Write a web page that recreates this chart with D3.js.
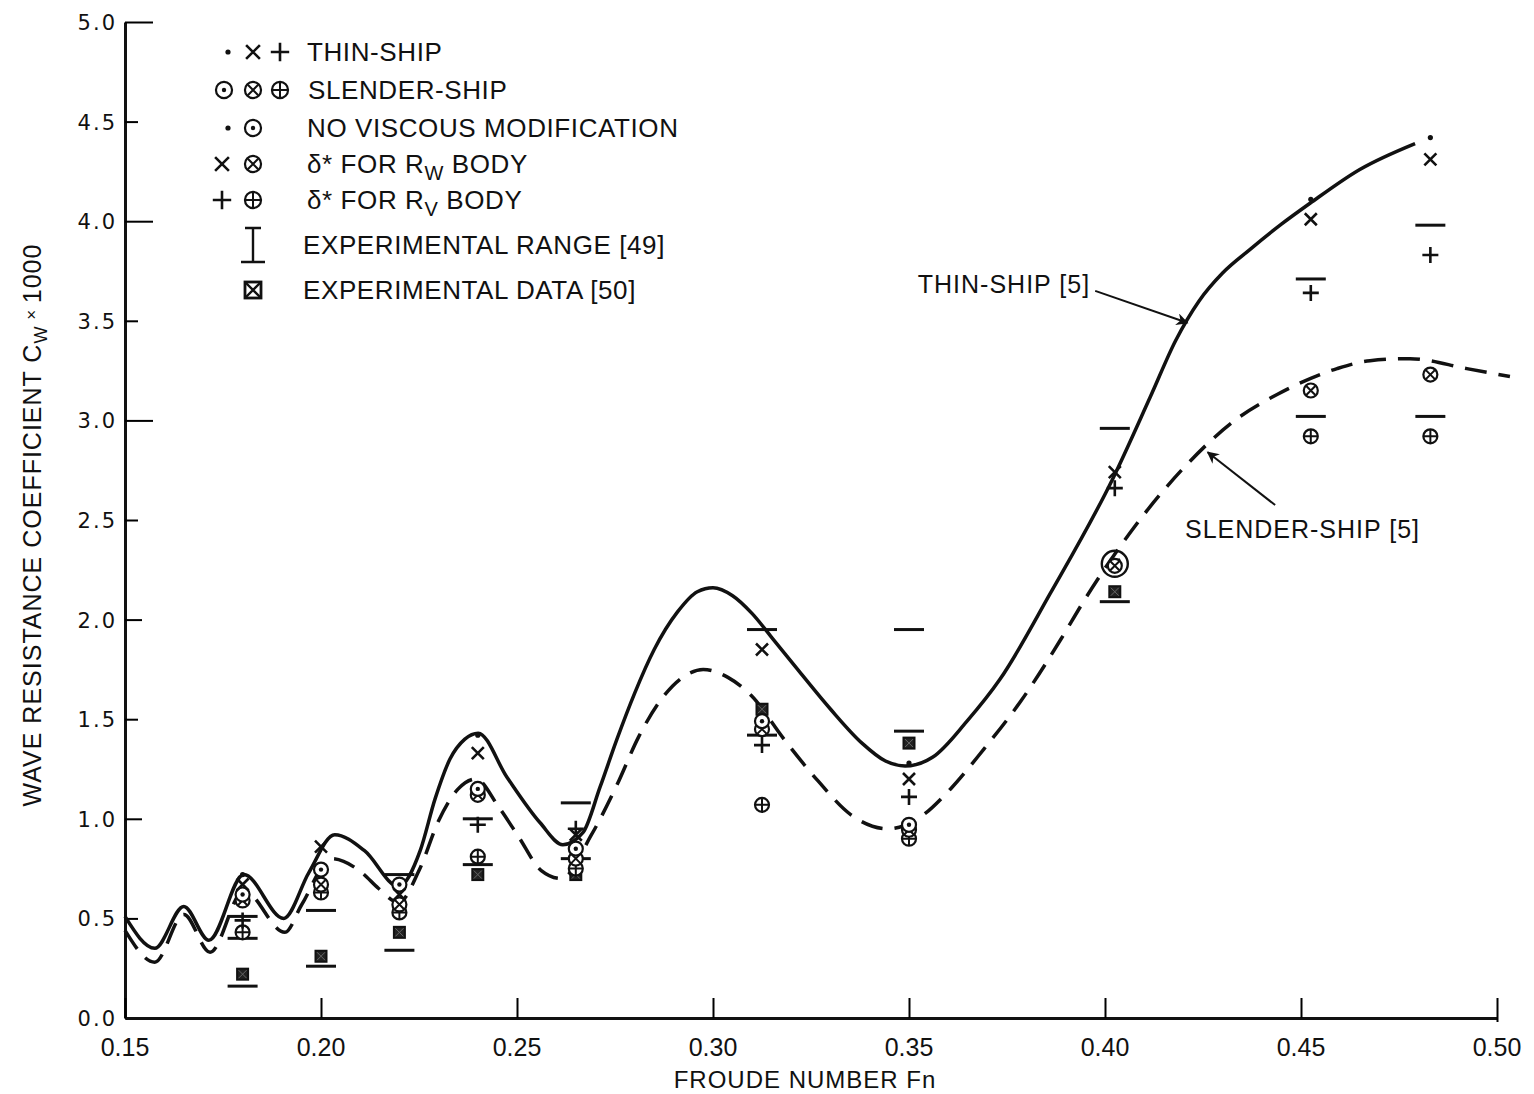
<!DOCTYPE html>
<html>
<head>
<meta charset="utf-8">
<script src="https://cdn.jsdelivr.net/npm/d3@7"></script>
<style>
  body { margin: 0; background: #fff; }
  svg { display: block; font-family: "Liberation Sans", Arial, sans-serif; }
  .y-label { font-family: "DejaVu Sans", sans-serif; font-size: 21px; letter-spacing: 2px; fill: #111; }
  .x-label { font-size: 25px; fill: #111; }
  .legend-text { font-size: 26px; letter-spacing: 0.6px; fill: #111; }
  .note { font-size: 25px; letter-spacing: 1px; fill: #111; }
  .title { font-size: 25px; letter-spacing: 1px; fill: #111; }
</style>
</head>
<body>
<div id="chart"></div>
<script>
// curves (Fn, Cw x 1000)
const thinShipCurve = [
  [0.150, 0.51], [0.1576, 0.35], [0.1650, 0.56], [0.1714, 0.39], [0.1803, 0.72],
  [0.1905, 0.50], [0.1969, 0.73], [0.2035, 0.92], [0.2111, 0.84], [0.2198, 0.66],
  [0.2253, 0.84], [0.2291, 1.10], [0.2329, 1.30], [0.2367, 1.40], [0.2401, 1.43],
  [0.2474, 1.21], [0.2559, 0.98], [0.2617, 0.87], [0.2668, 0.93], [0.2712, 1.16],
  [0.2755, 1.40], [0.2800, 1.63], [0.2850, 1.85], [0.2910, 2.04], [0.2960, 2.14],
  [0.3000, 2.16], [0.3050, 2.12], [0.3100, 2.03], [0.3150, 1.91], [0.3220, 1.74],
  [0.3300, 1.55], [0.3380, 1.38], [0.3440, 1.29], [0.3490, 1.265], [0.3561, 1.31],
  [0.3648, 1.49], [0.3732, 1.70], [0.3860, 2.13], [0.4018, 2.70], [0.4116, 3.12],
  [0.4180, 3.40], [0.4240, 3.60], [0.4300, 3.74], [0.4371, 3.86], [0.4450, 3.985],
  [0.4523, 4.09], [0.4650, 4.26], [0.4791, 4.39]
];
const slenderShipCurve = [
  [0.150, 0.44], [0.1576, 0.28], [0.1650, 0.52], [0.1717, 0.33], [0.1803, 0.64],
  [0.1908, 0.43], [0.1951, 0.57], [0.2027, 0.80], [0.2104, 0.73], [0.2147, 0.65],
  [0.2198, 0.58], [0.2250, 0.74], [0.2300, 0.99], [0.2350, 1.15], [0.2395, 1.20],
  [0.2453, 1.06], [0.2504, 0.91], [0.2562, 0.74], [0.2613, 0.70], [0.2690, 0.92],
  [0.2755, 1.17], [0.2810, 1.41], [0.2868, 1.60], [0.2930, 1.72], [0.2975, 1.75],
  [0.3038, 1.71], [0.3097, 1.62], [0.3181, 1.40], [0.3268, 1.19], [0.3352, 1.02],
  [0.3446, 0.95], [0.3522, 1.00], [0.3606, 1.15], [0.3691, 1.35], [0.3785, 1.59],
  [0.3887, 1.90], [0.3945, 2.09], [0.4073, 2.46], [0.4200, 2.76], [0.4338, 3.01],
  [0.4439, 3.13], [0.4592, 3.26], [0.4676, 3.30], [0.4778, 3.31], [0.4923, 3.26],
  [0.5033, 3.22]
];

// computed points
const thinNoVisc = [[0.18, 0.72], [0.24, 1.42], [0.35, 1.28], [0.4525, 4.11], [0.483, 4.42]];
const thinRw = [[0.18, 0.67], [0.20, 0.86], [0.22, 0.62], [0.24, 1.33], [0.265, 0.92],
  [0.3125, 1.85], [0.35, 1.20], [0.4025, 2.74], [0.4525, 4.01], [0.483, 4.31]];
const thinRv = [[0.18, 0.49], [0.24, 0.97], [0.265, 0.95], [0.3125, 1.37], [0.35, 1.11],
  [0.4025, 2.66], [0.4525, 3.64], [0.483, 3.83]];
const slenderNoVisc = [[0.18, 0.62], [0.20, 0.745], [0.22, 0.67], [0.24, 1.15], [0.265, 0.85],
  [0.3125, 1.49], [0.35, 0.97]];
const slenderRw = [[0.18, 0.59], [0.20, 0.67], [0.22, 0.57], [0.24, 1.12], [0.265, 0.80],
  [0.3125, 1.45], [0.35, 0.945], [0.4025, 2.27], [0.4525, 3.15], [0.483, 3.23]];
const slenderRv = [[0.18, 0.43], [0.20, 0.63], [0.22, 0.53], [0.24, 0.81], [0.265, 0.75],
  [0.3125, 1.07], [0.35, 0.90], [0.4525, 2.92], [0.483, 2.92]];
const slenderBig = [[0.4025, 2.28]];

// experiments
const expRangeBars = [[0.18, 0.51], [0.18, 0.40], [0.18, 0.16], [0.20, 0.54], [0.20, 0.26],
  [0.22, 0.72], [0.22, 0.34], [0.24, 1.00], [0.24, 0.77], [0.265, 1.08], [0.265, 0.80],
  [0.3125, 1.95], [0.3125, 1.42], [0.35, 1.95], [0.35, 1.44], [0.4025, 2.96], [0.4025, 2.09],
  [0.4525, 3.71], [0.4525, 3.02], [0.483, 3.98], [0.483, 3.02]];
const expData = [[0.18, 0.22], [0.20, 0.31], [0.22, 0.43], [0.24, 0.72], [0.265, 0.72],
  [0.3125, 1.55], [0.35, 1.38], [0.4025, 2.14]];

const xTicks = [0.15, 0.20, 0.25, 0.30, 0.35, 0.40, 0.45, 0.50];
const yTicks = [0, 0.5, 1.0, 1.5, 2.0, 2.5, 3.0, 3.5, 4.0, 4.5, 5.0];

const W = 1534, H = 1094;
const margin = { left: 125, top: 22, right: 37, bottom: 76 };

const svg = d3.select('#chart').append('svg')
  .attr('width', W).attr('height', H);

const x = d3.scaleLinear().domain([0.15, 0.50]).range([margin.left, W - margin.right]);
const y = d3.scaleLinear().domain([0, 5]).range([H - margin.bottom, margin.top]);

// axes
const yAxis = d3.axisRight(y).tickValues(yTicks).tickFormat('')
  .tickSizeOuter(0)
  .tickSizeInner(14);
const gy = svg.append('g').attr('transform', `translate(${margin.left},0)`).call(yAxis);
gy.selectAll('.tick line')
  .attr('x2', d => (d === 5 || d === 4 || d === 3) ? 28 : (d === 2 || d === 1) ? 17 : 13)
  .attr('stroke-width', 2);
gy.select('.domain').attr('stroke-width', 3).attr('stroke', '#111');

const xAxis = d3.axisTop(x).tickValues(xTicks).tickFormat('').tickSizeOuter(0).tickSizeInner(20);
const gx = svg.append('g').attr('transform', `translate(0,${y(0)})`).call(xAxis);
gx.selectAll('.tick line').attr('stroke-width', 2);
gx.select('.domain').attr('stroke-width', 3).attr('stroke', '#111');
gx.selectAll('.tick').filter(d => d === 0.5).select('line').attr('y1', 4);

svg.append('g').selectAll('text').data(yTicks).join('text')
  .attr('class', 'y-label')
  .attr('x', margin.left - 8).attr('y', d => y(d) + 8)
  .attr('text-anchor', 'end')
  .text(d => d.toFixed(1));

svg.append('g').selectAll('text').data(xTicks).join('text')
  .attr('class', 'x-label')
  .attr('x', d => x(d)).attr('y', y(0) + 38)
  .attr('text-anchor', 'middle')
  .text(d => d.toFixed(2));

svg.append('text').attr('class', 'title')
  .attr('x', 805).attr('y', 1088).attr('text-anchor', 'middle')
  .style('font-size', '24px')
  .text('FROUDE NUMBER Fn');

const yt = svg.append('text').attr('class', 'title')
  .attr('transform', `translate(41,525) rotate(-90)`)
  .attr('text-anchor', 'middle');
yt.append('tspan').text('WAVE RESISTANCE COEFFICIENT C');
yt.append('tspan').attr('dy', 6).attr('font-size', 18).text('W');
yt.append('tspan').attr('dy', -10).attr('font-size', 17).text(' × ');
yt.append('tspan').attr('dy', 4).text('1000');

// curves
const line = d3.line().x(d => x(d[0])).y(d => y(d[1])).curve(d3.curveMonotoneX);
svg.append('path').datum(thinShipCurve)
  .attr('d', line).attr('fill', 'none').attr('stroke', '#111').attr('stroke-width', 3.5);
svg.append('path').datum(slenderShipCurve)
  .attr('d', line).attr('fill', 'none').attr('stroke', '#111').attr('stroke-width', 3.5)
  .attr('stroke-dasharray', '22,12');

// symbols, k scales them up for the legend
function drawSym(g, type, k = 1) {
  const s = '#111';
  const a = v => v * k;
  if (type === 'dot') {
    g.append('circle').attr('r', 2.6).attr('fill', s);
  } else if (type === 'cross') {
    g.append('path').attr('d', `M${a(-6)},${a(-6)}L${a(6)},${a(6)}M${a(-6)},${a(6)}L${a(6)},${a(-6)}`)
      .attr('stroke', s).attr('stroke-width', 2.6);
  } else if (type === 'plus') {
    g.append('path').attr('d', `M${a(-8)},0H${a(8)}M0,${a(-8)}V${a(8)}`).attr('stroke', s).attr('stroke-width', 2.6);
  } else if (type === 'odot') {
    g.append('circle').attr('r', a(7)).attr('fill', '#fff').attr('stroke', s).attr('stroke-width', 2.2);
    g.append('circle').attr('r', 2.2).attr('fill', s);
  } else if (type === 'otimes') {
    g.append('circle').attr('r', a(7)).attr('fill', '#fff').attr('stroke', s).attr('stroke-width', 2.2);
    g.append('path').attr('d', `M${a(-4.5)},${a(-4.5)}L${a(4.5)},${a(4.5)}M${a(-4.5)},${a(4.5)}L${a(4.5)},${a(-4.5)}`)
      .attr('stroke', s).attr('stroke-width', 2);
  } else if (type === 'oplus') {
    g.append('circle').attr('r', a(7)).attr('fill', '#fff').attr('stroke', s).attr('stroke-width', 2.2);
    g.append('path').attr('d', `M${a(-7)},0H${a(7)}M0,${a(-7)}V${a(7)}`).attr('stroke', s).attr('stroke-width', 2);
  } else if (type === 'big') {
    g.append('circle').attr('r', 13).attr('fill', 'none').attr('stroke', s).attr('stroke-width', 2.4);
    g.append('path').attr('d', 'M-5,-5L5,5M-5,5L5,-5').attr('stroke', s).attr('stroke-width', 2);
  } else if (type === 'bar') {
    g.append('path').attr('d', 'M-15,0H15').attr('stroke', s).attr('stroke-width', 3);
  } else if (type === 'square') {
    g.append('rect').attr('x', -5.5).attr('y', -5.5).attr('width', 11).attr('height', 11)
      .attr('fill', '#222').attr('stroke', s).attr('stroke-width', 2);
    g.append('path').attr('d', 'M-4,-4L4,4M-4,4L4,-4').attr('stroke', '#666').attr('stroke-width', 1);
  } else if (type === 'squareLegend') {
    g.append('rect').attr('x', -8).attr('y', -8).attr('width', 16).attr('height', 16)
      .attr('fill', '#fff').attr('stroke', s).attr('stroke-width', 2.8);
    g.append('path').attr('d', 'M-8,-8L8,8M-8,8L8,-8').attr('stroke', s).attr('stroke-width', 2.4);
  } else if (type === 'ibeam') {
    g.append('path').attr('d', 'M-8,-17H8M0,-17V17M-12,17H12').attr('stroke', s).attr('stroke-width', 2.4);
  }
}

function plotSet(data, type) {
  svg.append('g').selectAll('g').data(data).join('g')
    .attr('transform', d => `translate(${x(d[0])},${y(d[1])})`)
    .each(function () { drawSym(d3.select(this), type); });
}

plotSet(expRangeBars, 'bar');
plotSet(expData, 'square');
plotSet(slenderBig, 'big');
plotSet(slenderRv, 'oplus');
plotSet(slenderRw, 'otimes');
plotSet(slenderNoVisc, 'odot');
plotSet(thinRv, 'plus');
plotSet(thinRw, 'cross');
plotSet(thinNoVisc, 'dot');

// annotations
svg.append('defs').append('marker')
  .attr('id', 'arrow').attr('viewBox', '0 0 10 10').attr('refX', 9).attr('refY', 5)
  .attr('markerWidth', 22).attr('markerHeight', 12).attr('orient', 'auto')
  .attr('markerUnits', 'userSpaceOnUse')
  .append('path').attr('d', 'M0,0L10,5L0,10L3,5Z').attr('fill', '#111');

svg.append('text').attr('class', 'note')
  .attr('x', x(0.3962)).attr('y', y(3.64)).attr('text-anchor', 'end').text('THIN-SHIP [5]');
svg.append('line')
  .attr('x1', x(0.3975)).attr('y1', y(3.65)).attr('x2', x(0.4210)).attr('y2', y(3.49))
  .attr('stroke', '#111').attr('stroke-width', 2).attr('marker-end', 'url(#arrow)');

svg.append('text').attr('class', 'note')
  .attr('x', x(0.4204)).attr('y', y(2.41)).text('SLENDER-SHIP [5]');
svg.append('line')
  .attr('x1', x(0.4434)).attr('y1', y(2.575)).attr('x2', x(0.4262)).attr('y2', y(2.84))
  .attr('stroke', '#111').attr('stroke-width', 2).attr('marker-end', 'url(#arrow)');

// legend
const legendRows = [
  { y: 52, syms: [['dot', 228], ['cross', 253], ['plus', 280]], text: 'THIN-SHIP', tx: 307 },
  { y: 90, syms: [['odot', 224], ['otimes', 253], ['oplus', 280]], text: 'SLENDER-SHIP', tx: 308 },
  { y: 128, syms: [['dot', 228], ['odot', 253]], text: 'NO VISCOUS MODIFICATION', tx: 307 },
  { y: 164, syms: [['cross', 222], ['otimes', 253]], text: 'δ* FOR R|W| BODY', tx: 307 },
  { y: 200, syms: [['plus', 222], ['oplus', 253]], text: 'δ* FOR R|V| BODY', tx: 307 },
  { y: 245, syms: [['ibeam', 253]], text: 'EXPERIMENTAL RANGE [49]', tx: 303 },
  { y: 290, syms: [['squareLegend', 253]], text: 'EXPERIMENTAL DATA [50]', tx: 303 }
];
const lg = svg.append('g');
legendRows.forEach(r => {
  r.syms.forEach(([t, sx]) => {
    drawSym(lg.append('g').attr('transform', `translate(${sx},${r.y})`), t, 1.15);
  });
  const t = lg.append('text').attr('class', 'legend-text').attr('x', r.tx).attr('y', r.y + 9);
  const parts = r.text.split('|');
  parts.forEach((p, i) => {
    if (i === 1) {
      t.append('tspan').attr('dy', 7).attr('font-size', 20).text(p);
    } else if (i === 2) {
      t.append('tspan').attr('dy', -7).text(p);
    } else {
      t.append('tspan').text(p);
    }
  });
});
</script>
</body>
</html>
